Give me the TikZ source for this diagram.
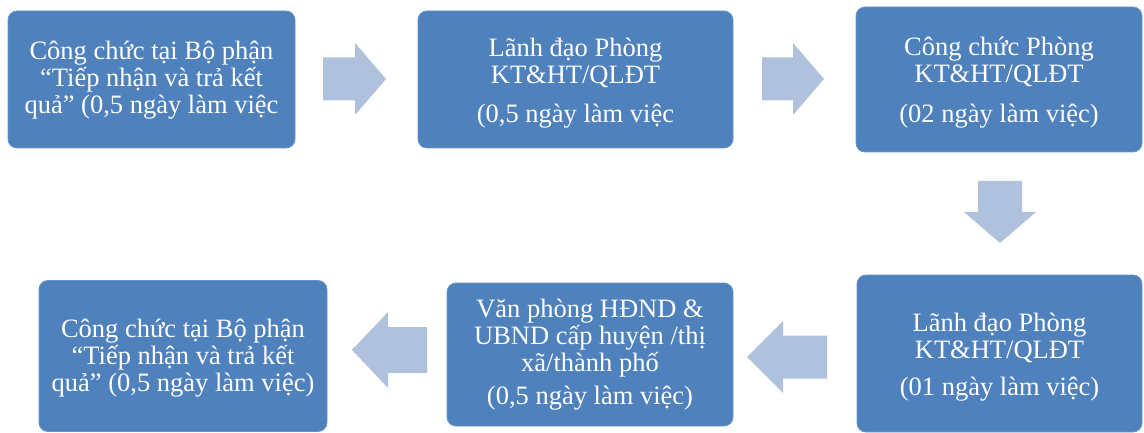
\documentclass[tikz,border=0pt]{standalone}
\usepackage{fontspec}
\setmainfont{Liberation Serif}
\definecolor{boxblue}{HTML}{4F81BD}
\definecolor{arrowblue}{HTML}{B0C1DD}
\begin{document}
\begin{tikzpicture}[x=1pt,y=-1pt,
  stepbox/.style={rectangle, rounded corners=9pt, fill=boxblue, draw=boxblue!85!white, line width=0.8pt, inner sep=0pt},
  steptext/.style={text=white, align=center, inner sep=0pt,
    font=\fontsize{26.5}{27}\selectfont},
  blockarrow/.style={fill=arrowblue, draw=none}]
\useasboundingbox (0,0) rectangle (1144,433);
% boxes
\node[stepbox, minimum width=287pt, minimum height=137pt] (b1) at (151.5,79.5) {};
\node[stepbox, minimum width=315pt, minimum height=137pt] (b2) at (575.5,79.5) {};
\node[stepbox, minimum width=286pt, minimum height=145pt] (b3) at (999,79.5) {};
\node[stepbox, minimum width=285pt, minimum height=157pt] (b4) at (999.5,353.5) {};
\node[stepbox, minimum width=286pt, minimum height=143pt] (b5) at (590,354.5) {};
\node[stepbox, minimum width=288pt, minimum height=151pt] (b6) at (183,356) {};
% texts
\node[steptext] (t1) at ([yshift=-0.5pt]b1.center)
  {Công chức tại Bộ phận\\“Tiếp nhận và trả kết\\quả” (0,5 ngày làm việc};
\node[steptext] (t2) at ([yshift=-3.5pt]b2.center)
  {Lãnh đạo Phòng\\KT\&HT/QLĐT\\[12pt](0,5 ngày làm việc};
\node[steptext] (t3) at ([yshift=-3.5pt]b3.center)
  {Công chức Phòng\\KT\&HT/QLĐT\\[13pt](02 ngày làm việc)};
\node[steptext] (t4) at ([yshift=-3.5pt]b4.center)
  {Lãnh đạo Phòng\\KT\&HT/QLĐT\\[10pt](01 ngày làm việc)};
\node[steptext] (t5) at ([yshift=0pt]b5.center)
  {Văn phòng HĐND \&\\UBND cấp huyện /thị\\xã/thành phố\\[6pt](0,5 ngày làm việc)};
\node[steptext] (t6) at ([yshift=-2.5pt]b6.center)
  {Công chức tại Bộ phận\\“Tiếp nhận và trả kết\\quả” (0,5 ngày làm việc)};
% arrow anchors
\coordinate (a1) at (323,79);
\coordinate (a2) at (762,79);
\coordinate (a3) at (1000,181);
\coordinate (a4) at (827,357);
\coordinate (a5) at (427,350);
% right arrows
\fill[blockarrow] (a1) ++(0,-21.5) -- ++(32,0) -- ++(0,-14.5) -- ++(31,36) -- ++(-31,36) -- ++(0,-14.5) -- ++(-32,0) -- cycle;
\fill[blockarrow] (a2) ++(0,-21.5) -- ++(31,0) -- ++(0,-14.5) -- ++(31,36) -- ++(-31,36) -- ++(0,-14.5) -- ++(-31,0) -- cycle;
% down arrow
\fill[blockarrow] (a3) ++(-22,0) -- ++(0,31) -- ++(-14,0) -- ++(36,31) -- ++(36,-31) -- ++(-14,0) -- ++(0,-31) -- cycle;
% left arrows
\fill[blockarrow] (a4) ++(0,-21.5) -- ++(-44,0) -- ++(0,-14.5) -- ++(-36,36) -- ++(36,36) -- ++(0,-14.5) -- ++(44,0) -- cycle;
\fill[blockarrow] (a5) ++(0,-23) -- ++(-39,0) -- ++(0,-15) -- ++(-36,38) -- ++(36,38) -- ++(0,-15) -- ++(39,0) -- cycle;
\end{tikzpicture}
\end{document}
